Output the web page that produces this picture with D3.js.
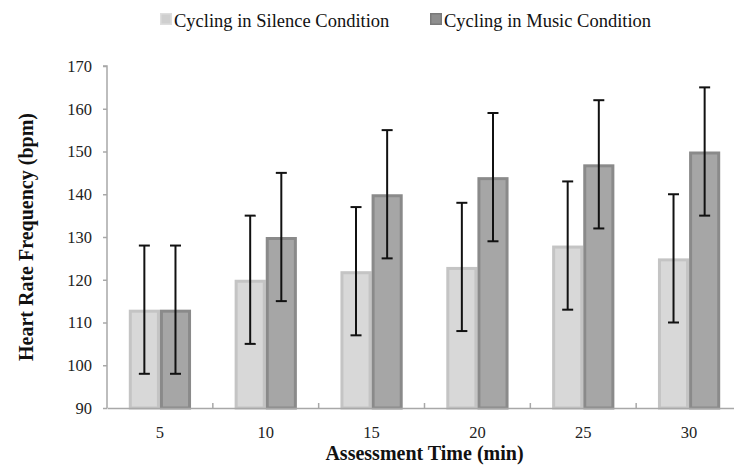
<!DOCTYPE html>
<html>
<head>
<meta charset="utf-8">
<script src="https://cdn.jsdelivr.net/npm/d3@7"></script>
<style>
  html, body { margin: 0; padding: 0; background: #fff; }
  svg { display: block; }
</style>
</head>
<body>
<svg id="chart" width="734" height="468"></svg>
<script>
// ---- data ----
const categories = ["5", "10", "15", "20", "25", "30"];
const seriesNames = ["Cycling in Silence Condition", "Cycling in Music Condition"];
const silenceValues = [113, 120, 122, 123, 128, 125];
const musicValues   = [113, 130, 140, 144, 147, 150];
const silenceErr    = [15, 15, 15, 15, 15, 15];
const musicErr      = [15, 15, 15, 15, 15, 15];
const yTicks = [90, 100, 110, 120, 130, 140, 150, 160, 170];

const fills   = ["#d8d8d8", "#a6a6a6"];
const strokes = ["#c4c4c4", "#8a8a8a"];
const legendFill   = ["#cfcfcf", "#8e8e8e"];
const legendStroke = ["#dedede", "#7a7a7a"];

const rows = categories.map((c, i) => ({
  cat: c,
  vals: [
    { s: 0, v: silenceValues[i], e: silenceErr[i] },
    { s: 1, v: musicValues[i], e: musicErr[i] }
  ]
}));

const svg = d3.select("#chart");
const serif = "'Liberation Serif', 'Times New Roman', serif";

const y = d3.scaleLinear().domain([90, 170]).range([408, 66]);
const x0 = d3.scaleBand().domain(categories).range([107, 742]).padding(0);
const x1 = d3.scaleBand().domain([0, 1]).range([0, x0.bandwidth()]).paddingInner(0).paddingOuter(0.7);

// ---- bars ----
const g = svg.append("g");
const groups = g.selectAll("g.grp").data(rows).join("g")
  .attr("class", "grp")
  .attr("transform", d => `translate(${x0(d.cat)},0)`);

groups.selectAll("rect").data(d => d.vals).join("rect")
  .attr("x", d => x1(d.s) + 1.5)
  .attr("width", x1.bandwidth() - 3)
  .attr("y", d => y(d.v) + 1.5)
  .attr("height", d => y(90) - y(d.v) - 1.5)
  .attr("fill", d => fills[d.s])
  .attr("stroke", d => strokes[d.s])
  .attr("stroke-width", 3);

// ---- axes ----
const axisColor = "#a8a8a8";
const yAxis = svg.append("g")
  .attr("transform", `translate(${x0.range()[0]},0)`)
  .attr("font-family", serif)
  .call(d3.axisLeft(y).tickValues(yTicks).tickSize(4).tickPadding(11));
yAxis.attr("font-family", serif);
yAxis.select(".domain").attr("stroke", axisColor).attr("stroke-width", 1.5)
  .attr("d", `M-4,${y(170)}H0V${y(90)}`);
yAxis.selectAll(".tick line").attr("stroke", axisColor).attr("stroke-width", 1.5);
yAxis.selectAll(".tick text")
  .attr("font-family", serif).attr("font-size", 16.5).attr("fill", "#222");

const xAxis = svg.append("g")
  .attr("transform", `translate(0,${y(90)})`)
  .call(d3.axisBottom(x0).tickSize(0).tickPadding(18));
xAxis.attr("font-family", serif);
xAxis.select(".domain").attr("stroke", axisColor).attr("stroke-width", 1.5);
xAxis.selectAll(".tick text")
  .attr("font-family", serif).attr("font-size", 16.5).attr("fill", "#222");
// category boundary ticks pointing up
const bounds = categories.slice(1).map(c => x0(c));
svg.append("g").selectAll("line").data(bounds).join("line")
  .attr("x1", d => d).attr("x2", d => d)
  .attr("y1", y(90)).attr("y2", y(90) - 5)
  .attr("stroke", axisColor).attr("stroke-width", 1.5);

// ---- error bars ----
const eb = groups.selectAll("g.eb").data(d => d.vals).join("g").attr("class", "eb");
eb.append("line")
  .attr("x1", d => x1(d.s) + x1.bandwidth() / 2)
  .attr("x2", d => x1(d.s) + x1.bandwidth() / 2)
  .attr("y1", d => y(d.v + d.e))
  .attr("y2", d => y(d.v - d.e))
  .attr("stroke", "#111").attr("stroke-width", 2);
[1, -1].forEach(sgn => {
  eb.append("line")
    .attr("x1", d => x1(d.s) + x1.bandwidth() / 2 - 5.5)
    .attr("x2", d => x1(d.s) + x1.bandwidth() / 2 + 5.5)
    .attr("y1", d => y(d.v + sgn * d.e))
    .attr("y2", d => y(d.v + sgn * d.e))
    .attr("stroke", "#111").attr("stroke-width", 2);
});

// ---- axis titles ----
svg.append("text")
  .attr("x", (x0.range()[0] + x0.range()[1]) / 2)
  .attr("y", 460)
  .attr("text-anchor", "middle")
  .attr("font-family", serif).attr("font-weight", "bold").attr("font-size", 20)
  .attr("fill", "#111")
  .text("Assessment Time (min)");

svg.append("text")
  .attr("transform", `translate(33,${(y(170) + y(90)) / 2}) rotate(-90)`)
  .attr("text-anchor", "middle")
  .attr("font-family", serif).attr("font-weight", "bold").attr("font-size", 20)
  .attr("fill", "#111")
  .text("Heart Rate Frequency (bpm)");

// ---- legend ----
const legendX = [160, 430];
const leg = svg.append("g").selectAll("g").data(seriesNames).join("g")
  .attr("transform", (d, i) => `translate(${legendX[i]},13)`);
leg.append("rect")
  .attr("x", 0.75).attr("y", 0.75).attr("width", 10.5).attr("height", 10.5)
  .attr("fill", (d, i) => legendFill[i])
  .attr("stroke", (d, i) => legendStroke[i]).attr("stroke-width", 1.5);
leg.append("text")
  .attr("x", 14).attr("y", 14)
  .attr("font-family", serif).attr("font-size", 18.5).attr("fill", "#111")
  .text(d => d);
</script>
</body>
</html>
